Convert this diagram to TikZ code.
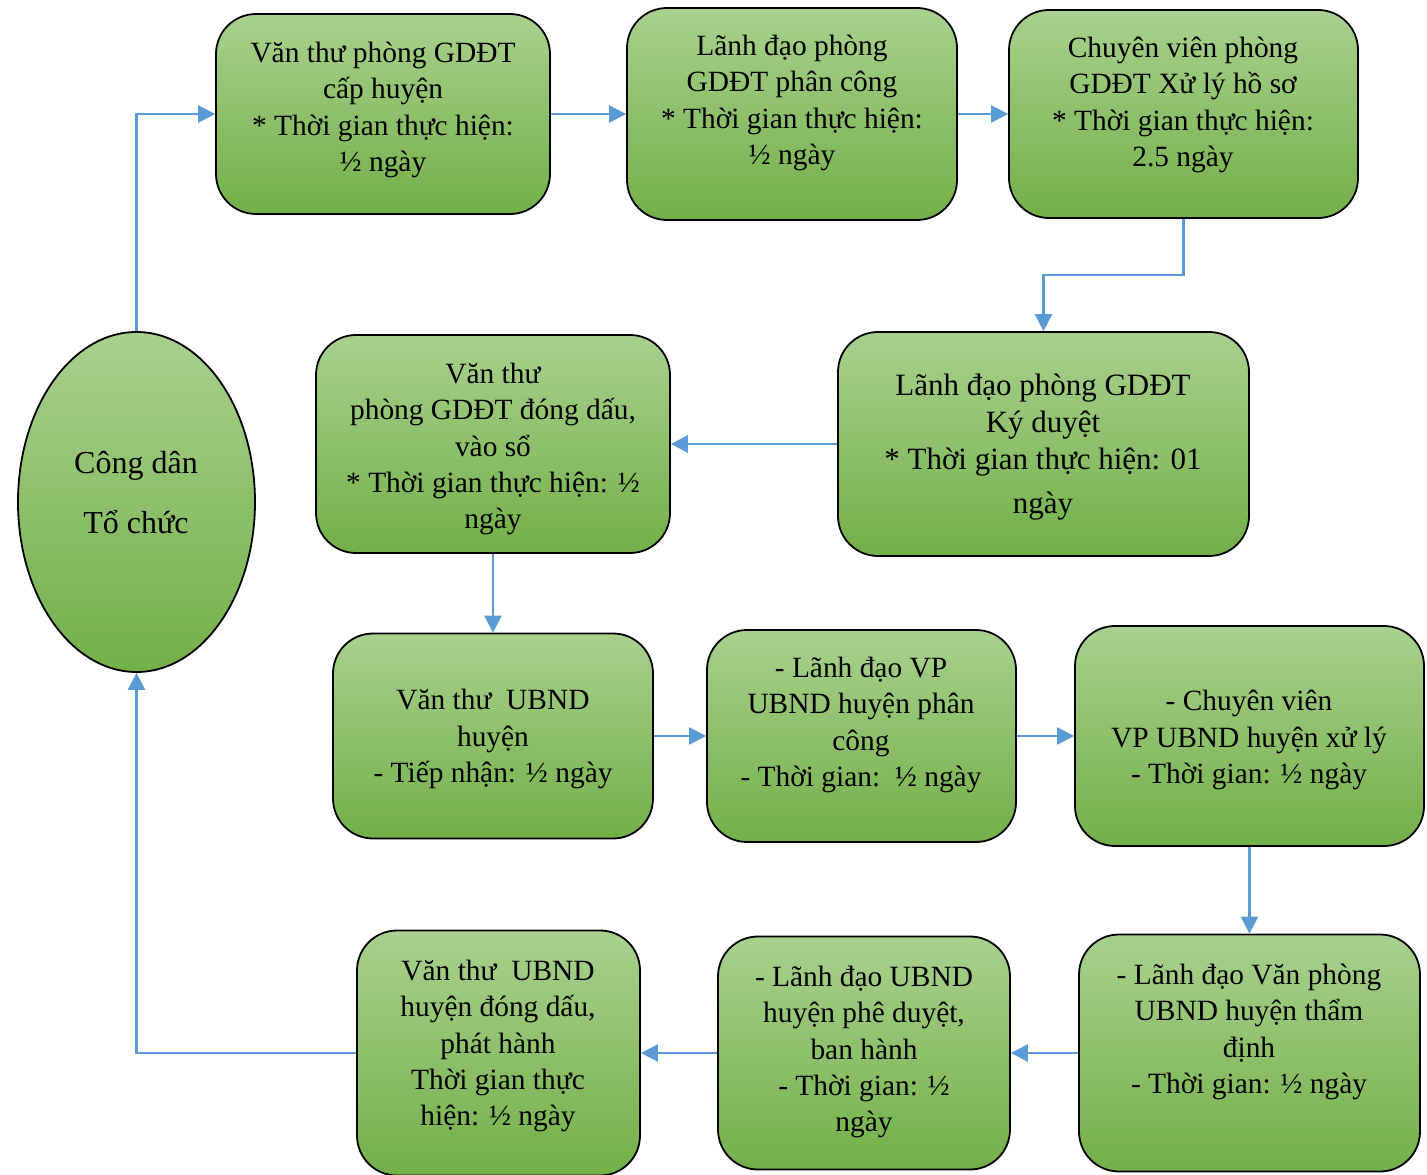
\documentclass[tikz,border=0pt]{standalone}
\usepackage{fontspec}
\setmainfont{Liberation Serif}
\usetikzlibrary{arrows.meta,shapes.geometric}
\definecolor{gtop}{RGB}{169,209,142}
\definecolor{gbot}{RGB}{114,176,72}
\definecolor{flow}{RGB}{91,155,213}
\tikzset{
  stepbox/.style={draw=black, line width=1.8pt, rounded corners=40pt,
    top color=gtop, bottom color=gbot, inner sep=0pt},
  startoval/.style={ellipse, draw=black, line width=1.8pt,
    top color=gtop, bottom color=gbot, inner sep=0pt,
    minimum width=237pt, minimum height=340pt},
  lbl/.style={align=center, inner sep=0pt, font=\fontsize{29.4}{36.2}\selectfont},
  link/.style={draw=flow, line width=2.6pt,
    -{Triangle[length=17pt,width=17pt]}},
}
\begin{document}
\begin{tikzpicture}[x=1pt,y=-1pt]
\useasboundingbox (0,0) rectangle (1427,1175);

% process steps
\node[stepbox, minimum width=334pt, minimum height=200pt] (a) at (383,114) {};
\node[stepbox, minimum width=330pt, minimum height=212pt] (b) at (792,114) {};
\node[stepbox, minimum width=349pt, minimum height=208pt] (c) at (1183.5,114) {};
\node[stepbox, minimum width=411pt, minimum height=224pt] (d) at (1043.5,444) {};
\node[stepbox, minimum width=354pt, minimum height=218pt] (e) at (493,444) {};
\node[stepbox, minimum width=320pt, minimum height=205pt] (f) at (493,736) {};
\node[stepbox, minimum width=309pt, minimum height=212pt] (g) at (861.5,736) {};
\node[stepbox, minimum width=349pt, minimum height=220pt] (h) at (1249.5,736) {};
\node[stepbox, minimum width=341pt, minimum height=237pt] (i) at (1249.5,1053) {};
\node[stepbox, minimum width=292pt, minimum height=233pt] (j) at (864,1053) {};
\node[stepbox, minimum width=283pt, minimum height=245pt] (k) at (498.5,1053) {};
\node[startoval] (o) at (136.5,502) {};

% labels
\node[lbl] (ta) at (383,110) {Văn thư phòng GDĐT\\cấp huyện\\* Thời gian thực hiện:\\½ ngày};
\node[lbl] (tb) at (792,103) {Lãnh đạo phòng\\GDĐT phân công\\* Thời gian thực hiện:\\½ ngày};
\node[lbl] (tc) at (1183,105) {Chuyên viên phòng\\GDĐT Xử lý hồ sơ\\* Thời gian thực hiện:\\2.5 ngày};
\node[lbl, font=\fontsize{31}{37}\selectfont] (td) at (1043,447) {Lãnh đạo phòng GDĐT\\Ký duyệt\\* Thời gian thực hiện: 01\\[7pt]ngày};
\node[lbl] (te) at (493,449) {Văn thư\\phòng GDĐT đóng dấu,\\vào sổ\\* Thời gian thực hiện: ½\\ngày};
\node[lbl] (tf) at (493,739) {Văn thư\ \ UBND\\huyện\\- Tiếp nhận: ½ ngày};
\node[lbl] (tg) at (861,725) {- Lãnh đạo VP\\UBND huyện phân\\công\\- Thời gian:\ \ ½ ngày};
\node[lbl] (th) at (1249,740) {- Chuyên viên\\VP UBND huyện xử lý\\- Thời gian: ½ ngày};
\node[lbl] (ti) at (1249,1032) {- Lãnh đạo Văn phòng\\UBND huyện thẩm\\định\\- Thời gian: ½ ngày};
\node[lbl] (tj) at (864,1052) {- Lãnh đạo UBND\\huyện phê duyệt,\\ban hành\\- Thời gian: ½\\ngày};
\node[lbl] (tk) at (498,1046) {Văn thư\ \ UBND\\huyện đóng dấu,\\phát hành\\Thời gian thực\\hiện: ½ ngày};
\node[lbl, font=\fontsize{32}{36}\selectfont] (to) at (136,493) {Công dân\\[24pt]Tổ chức};

% connectors
\coordinate (cd) at (1183.5,275);
\draw[link] (o.north) |- (a.west);
\draw[link] (a.east) -- (b.west);
\draw[link] (b.east) -- (c.west);
\draw[link] (c.south) -- (cd) -| (d.north);
\draw[link] (d.west) -- (e.east);
\draw[link] (e.south) -- (f.north);
\draw[link] (f.east) -- (g.west);
\draw[link] (g.east) -- (h.west);
\draw[link] (h.south) -- (i.north);
\draw[link] (i.west) -- (j.east);
\draw[link] (j.west) -- (k.east);
\draw[link] (k.west) -| (o.south);
\end{tikzpicture}
\end{document}
